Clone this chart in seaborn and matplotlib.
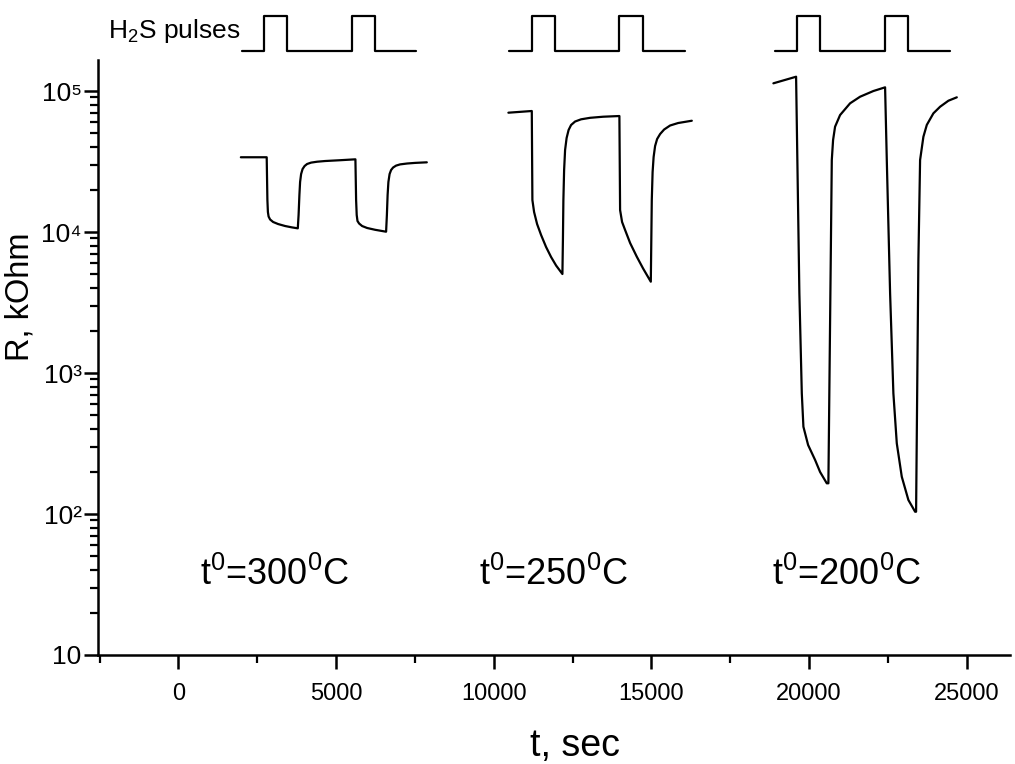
import numpy as np
import pandas as pd
import matplotlib
matplotlib.use("Agg")
import matplotlib.pyplot as plt
import matplotlib.transforms as mtransforms
from matplotlib.ticker import FixedLocator, MultipleLocator, FuncFormatter, NullFormatter
import seaborn as sns

# Sensor resistance response (kOhm) vs time (s) at three operating temperatures
t_300 = [1980, 2800, 2822, 2838, 2860, 2908, 3003, 3162, 3383, 3605, 3786,
         3811, 3837, 3859, 3891, 3938, 4002, 4081, 4208, 4398, 4652, 5128, 5613,
         5635, 5654, 5679, 5730, 5825, 5984, 6237, 6586,
         6611, 6634, 6659, 6697, 6745, 6808, 6903, 7030, 7252, 7506, 7877]
r_300 = [33900, 33900, 16870, 13860, 12880, 12270, 11780, 11390, 11030, 10780, 10620,
         13200, 18300, 22630, 25780, 27980, 29390, 30370, 31060, 31520, 31880, 32300, 32780,
         16870, 13200, 11970, 11490, 11030, 10680, 10370, 10050,
         13200, 18300, 22630, 25780, 27530, 28670, 29580, 30170, 30610, 30920, 31210]

t_250 = [10464, 11206, 11225, 11279, 11374, 11501, 11659, 11818, 11977, 12177,
         12193, 12208, 12231, 12262, 12310, 12373, 12452, 12579, 12769, 13055, 13467, 13984,
         14006, 14069, 14165, 14324, 14536, 14736, 14980,
         14996, 15011, 15037, 15069, 15116, 15180, 15275, 15402, 15592, 15846, 16280]
r_250 = [70180, 72150, 16870, 13860, 11390, 9522, 7828, 6647, 5786, 5036,
         8775, 16870, 27530, 38160, 46420, 52900, 57410, 60770, 63000, 64560, 65720, 66480,
         14320, 11780, 10330, 8356, 6680, 5509, 4441,
         8775, 16870, 26640, 34030, 40730, 45660, 49550, 53330, 56940, 59290, 61550]

t_200 = [18867, 19587, 19627, 19691, 19768, 19819, 19968, 20190, 20348, 20560,
         20611, 20665, 20719, 20760, 20823, 20982, 21299, 21616, 22038, 22409,
         22463, 22568, 22672, 22780, 22938, 23148, 23361,
         23392, 23465, 23519, 23624, 23732, 23941, 24154, 24417, 24683]
r_200 = [113400, 126300, 32410, 3675, 717.8, 415.9, 308.6, 241.6, 198.6, 165.1,
         165.1, 2318, 32410, 44930, 55830, 67560, 81810, 91110, 100000, 106200,
         32410, 3675, 717.8, 317.2, 183.9, 125.7, 103.8,
         103.8, 6330, 32410, 47410, 57500, 69480, 77380, 85350, 90220]

temperatures = ["300", "250", "200"]
label_t = [3050, 11900, 21200]

# H2S gas pulses: trace window and on/off times for each run
window_start = [2010, 10496, 18921]
window_end = [7538, 16067, 24470]
pulse_on = [[2727, 5499], [11206, 13984], [19609, 22409]]
pulse_off = [[3437, 6238], [11945, 14745], [20348, 23148]]

sns.set_theme(style="ticks")
plt.rcParams["font.family"] = ["Liberation Sans", "DejaVu Sans"]
plt.rcParams["mathtext.default"] = "regular"
for key in ["text.color", "axes.labelcolor", "xtick.color", "ytick.color", "axes.edgecolor"]:
    plt.rcParams[key] = "black"

fig = plt.figure(figsize=(10.15, 7.64), dpi=100)
ax = fig.add_axes([98.3 / 1015, 1 - 655 / 764, (1010 - 98.3) / 1015, (655 - 60) / 764])

runs = [(t_300, r_300), (t_250, r_250), (t_200, r_200)]
for tt, rr in runs:
    df = pd.DataFrame({"t": tt, "R": rr})
    sns.lineplot(data=df, x="t", y="R", sort=False, estimator=None, color="black",
                 lw=1.6, ax=ax)

ax.set_yscale("log")
ax.set_xlim(-2540, 26370)
ax.set_ylim(10, 10 ** 5.22)

# Pulse traces above the plotting area
trans = mtransforms.blended_transform_factory(ax.transData, ax.transAxes)
low, high = 1.0156, 1.0745
for s, e, ons, offs in zip(window_start, window_end, pulse_on, pulse_off):
    xs, ys = [s], [low]
    for a, b in zip(ons, offs):
        xs += [a, a, b, b]
        ys += [low, high, high, low]
    xs.append(e)
    ys.append(low)
    ax.plot(xs, ys, color="black", lw=1.6, transform=trans, clip_on=False)

ax.text(window_start[0] - 40, (low + high) / 2 + 0.004, r"H$_2$S pulses", transform=trans,
        ha="right", va="center", fontsize=19)

for tx, temp in zip(label_t, temperatures):
    ax.text(tx, 0.134, r"t$^0$=" + temp + r"$^0$C", transform=trans,
            ha="center", va="center", fontsize=26)

# Axes styling
sns.despine(ax=ax)
for sp in ["left", "bottom"]:
    ax.spines[sp].set_linewidth(1.8)

ax.xaxis.set_major_locator(FixedLocator([0, 5000, 10000, 15000, 20000, 25000]))
ax.xaxis.set_minor_locator(MultipleLocator(2500))
ax.yaxis.set_major_locator(FixedLocator([10, 100, 1000, 10000, 100000]))
ax.yaxis.set_minor_locator(FixedLocator([m * 10 ** k for k in range(1, 5) for m in range(2, 10)]))
ax.yaxis.set_minor_formatter(NullFormatter())

SUPERSCRIPTS = {2: "\u00b2", 3: "\u00b3", 4: "\u2074", 5: "\u2075"}


def log_label(v, pos):
    e = int(round(np.log10(v)))
    return "10" if e == 1 else "10" + SUPERSCRIPTS[e]


ax.yaxis.set_major_formatter(FuncFormatter(log_label))
ax.tick_params(which="major", direction="out", length=10, width=1.8)
ax.tick_params(which="minor", direction="out", length=6, width=1.6)
ax.tick_params(axis="x", which="major", pad=10, labelsize=17)
ax.tick_params(axis="y", which="major", pad=2, labelsize=19)

ax.set_xlabel("t, sec", fontsize=27)
ax.set_ylabel("R, kOhm", fontsize=23.5)
ax.xaxis.set_label_coords(0.523, -0.1227)
ax.xaxis.label.set_va("top")
ax.yaxis.set_label_coords(-0.069, 0.602)

fig.savefig("out.png", dpi=100, facecolor="white")
